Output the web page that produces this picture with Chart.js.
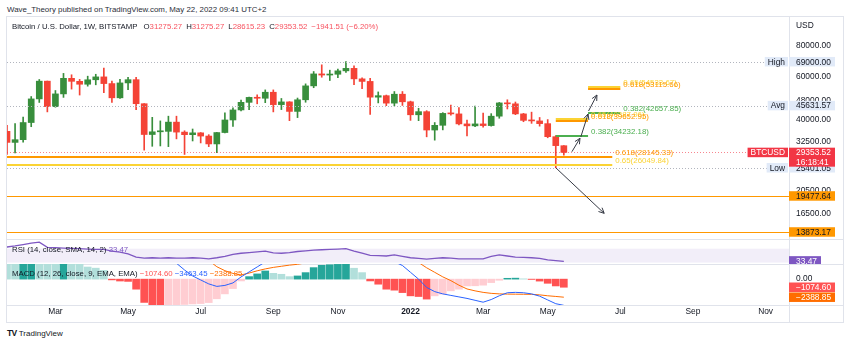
<!DOCTYPE html>
<html>
<head>
<meta charset="utf-8">
<title>BTCUSD 1W</title>
<script src="https://cdn.jsdelivr.net/npm/chart.js"></script>
<style>
  html, body { margin: 0; padding: 0; background: #fff; }
  body { position: relative; width: 850px; height: 344px; overflow: hidden;
         font-family: 'Liberation Sans', Arial, sans-serif; color: #131722; }
  .t { position: absolute; white-space: nowrap; line-height: 10px; z-index: 3; }
  .ln { position: absolute; background: #e0e3eb; z-index: 0; }
  canvas { position: absolute; left: 0; z-index: 1; }
  .dn { color: #f7525f; }
  .gap { margin-left: 4px; }
</style>
</head>
<body>
<div class="t" style="left:7px; top:5px; font-size:7.9px; color:#2a2e39">Wave_Theory published on TradingView.com, May 22, 2022 09:41 UTC+2</div>

<!-- frame and pane separators -->
<div class="ln" style="left:6px; top:16px; width:838px; height:1px"></div>
<div class="ln" style="left:6px; top:322px; width:838px; height:1px"></div>
<div class="ln" style="left:6px; top:16px; width:1px; height:307px"></div>
<div class="ln" style="left:843px; top:16px; width:1px; height:307px"></div>
<div class="ln" style="left:789px; top:16px; width:1px; height:307px"></div>
<div class="ln" style="left:6px; top:239px; width:838px; height:1px"></div>
<div class="ln" style="left:6px; top:264px; width:838px; height:1px"></div>
<div class="ln" style="left:6px; top:305px; width:838px; height:1px"></div>

<canvas id="priceChart" width="850" height="222" style="top:17px"></canvas>
<canvas id="rsiChart" width="850" height="25" style="top:239px"></canvas>
<canvas id="macdChart" width="850" height="58" style="top:264px"></canvas>

<div class="t" id="legend" style="left:12px; top:22px; font-size:7.8px"></div>
<div class="t" style="left:796px; top:20px; font-size:8.4px">USD</div>
<div class="t" id="rsiLegend" style="left:12px; top:245px; font-size:7.8px"></div>
<div class="t" id="macdLegend" style="left:12px; top:269px; font-size:7.8px"></div>
<div class="t" style="left:7px; top:328px; font-size:8px"><b style="letter-spacing:-0.6px; font-size:8.5px">TV</b> TradingView</div>

<script>
// weekly bars, BTCUSD on Bitstamp; index 0 = week of 11 Jan 2021, last = week of 16 May 2022
const OPEN = [38150, 35800, 32260, 33100, 38900, 48600, 57450, 45200, 50950, 59000,
  57350, 55800, 58200, 59800, 56150, 49100, 56500, 58250, 46450, 34750,
  35650, 35800, 39050, 35550, 34700, 35300, 34250, 31800, 35400, 39850,
  43800, 47050, 49300, 48900, 51750, 46050, 47250, 43200, 48200, 54950,
  61500, 60850, 61300, 63300, 64800, 58700, 57300, 49400, 50100, 46700,
  50800, 47300, 41850, 43100, 36250, 37900, 42400, 42200, 38400, 37700,
  38400, 37800, 41300, 46800, 46400, 42200, 39700, 39500, 38500, 34050,
  31275.27];
const HIGH = [40100, 37850, 38550, 40950, 49700, 58350, 57500, 52600, 61800, 61000,
  58400, 60200, 61300, 64900, 57500, 58450, 59500, 59600, 46500, 40850,
  39500, 41300, 41300, 36000, 36600, 35400, 34700, 35450, 42600, 44700,
  48100, 49400, 50500, 52900, 52900, 48800, 47350, 49000, 56000, 62900,
  67000, 63700, 64300, 69000, 66300, 59300, 59000, 51900, 50400, 52100,
  52100, 47600, 44500, 43500, 38900, 42700, 45850, 44800, 39800, 45400,
  42500, 42300, 47000, 48200, 47200, 42400, 42900, 40800, 40000, 34400,
  31275.27];
const LOW = [30420, 28800, 29240, 32300, 37400, 47000, 43000, 44950, 49300, 53300,
  50400, 54800, 55500, 51500, 47000, 48800, 53000, 43900, 30000, 31100,
  31200, 31000, 33350, 28800, 32700, 32100, 31000, 29300, 35300, 37500,
  43400, 43950, 46400, 46900, 43000, 43950, 39600, 40750, 47100, 54000,
  59600, 57800, 59400, 62300, 55600, 53500, 42000, 46800, 45600, 45500,
  45700, 39700, 39600, 34000, 32950, 36300, 41700, 38000, 34300, 37400,
  37200, 37600, 40500, 44200, 41900, 39200, 38600, 37600, 33700, 25401.05,
  28615.23];
const CLOSE = [35800, 32260, 33100, 38900, 48600, 57450, 45200, 50950, 59000, 57350,
  55800, 58200, 59800, 56150, 49100, 56500, 58250, 46450, 34750, 35650,
  35800, 39050, 35550, 34700, 35300, 34250, 31800, 35400, 39850, 43800,
  47050, 49300, 48900, 51750, 46050, 47250, 43200, 48200, 54950, 61500,
  60850, 61300, 63300, 64800, 58700, 57300, 49400, 50100, 46700, 50800,
  47300, 41850, 43100, 36250, 37900, 42400, 42200, 38400, 37700, 38400,
  37800, 41300, 46800, 46400, 42200, 39700, 39500, 38500, 34050, 31295.03,
  29353.52];

const RSI = [72, 75, 78, 82, 86, 89, 74, 73, 72, 71,
  70, 69, 68, 68, 63, 60, 55, 46, 43, 44,
  43, 44, 43, 43, 44, 43, 41, 44, 48, 54,
  57, 59, 61, 63, 58, 57, 59, 62, 64, 66,
  67, 68, 69, 70, 63, 57, 51, 50, 49, 52,
  48, 44, 42, 40, 42, 44, 43, 41, 41, 41,
  41, 48, 52, 49, 46, 45, 44, 42, 38, 36,
  33.47];

const MACD_LINE = [4800, 5200, 5600, 6200, 7000, 8200, 8600, 8900, 9300, 9400,
  9300, 9200, 9000, 8600, 7800, 7400, 7100, 6000, 4300, 3400,
  2900, 2600, 2100, 1210, 420, -110, -630, -960, -830, -500,
  290, 950, 1610, 2270, 2500, 2700, 2800, 3100, 3600, 4300,
  4700, 5000, 5300, 5500, 5000, 4400, 3300, 2900, 2500, 2300,
  1800, 900, 0, -1100, -1650, -1950, -2150, -2350, -2550, -2800,
  -3050, -2700, -2200, -1800, -1750, -1800, -1950, -2250, -2750, -3250,
  -3463.45];
const MACD_SIGNAL = [2300, 2800, 3300, 3700, 4200, 5500, 6100, 6600, 6900, 7200,
  7300, 7600, 7550, 7450, 7500, 7450, 7350, 7100, 6600, 6000,
  5400, 4900, 4400, 3900, 3700, 3120, 2470, 1640, 1120, 750,
  550, 800, 1100, 1350, 1550, 1700, 1850, 1960, 2150, 2700,
  2900, 3100, 3350, 3500, 3550, 3550, 3550, 3400, 3250, 3000,
  2700, 2400, 2200, 1500, 900, 300, -200, -800, -1300, -1550,
  -1750, -1880, -1950, -1980, -1990, -2000, -2010, -2080, -2200, -2290,
  -2388.85];
const MACD_HIST = [2600, 2400, 2300, 2500, 2800, 2700, 2500, 2300, 2400, 2200,
  2000, 1600, 1450, 1150, -100, -250, -300, -1330, -3080, -3400,
  -3500, -3450, -3400, -3350, -3280, -3230, -3100, -2600, -1950, -1250,
  -240, 330, 690, 1080, 770, 640, 330, 420, 860, 1520,
  1830, 1900, 1950, 1980, 1440, 860, -240, -670, -1330, -1460,
  -1780, -2210, -2300, -2640, -2210, -1980, -1550, -1330, -900, -880,
  -800, -460, -150, 110, 130, 40, -40, -260, -550, -900,
  -1074.6];

// time axis: week index of the first bar in each labelled month
const TICK_WEEKS = [7, 16, 25, 34, 42, 51, 60, 68, 77, 86, 95];
const TICK_LABELS = ['Mar', 'May', 'Jul', 'Sep', 'Nov', '2022', 'Mar', 'May', 'Jul', 'Sep', 'Nov'];
const PRICE_TICKS = [80000, 60000, 48000, 40000, 32500, 20500, 16500];

const STAT_NAMES = ['High', 'Avg', 'Low'];
const STAT_VALUES = [69000, 45631.57, 25401.05];
const SUPPORT_LEVELS = [19477.64, 13873.17];
const COUNTDOWN = '16:18:41';

// fib levels drawn on the chart
const FIB_RATIO = [0.618, 0.65, 0.382, 0.65, 0.618, 0.382, 0.65, 0.618];
const FIB_PRICE = [28145.33, 26049.84, 34232.18, 40387.96, 39652.95, 42657.85, 54533.67, 53115.66];
const FIB_FROM = [0, 0, 69, 69, 69, 73, 73, 73];
const FIB_TO = [76, 76, 73, 73, 73, 77, 77, 77];

// arrows: (week, price) -> (week, price)
const ARROW_W0 = [69, 71, 72.1, 73.06];
const ARROW_P0 = [25401.05, 29550, 33950, 43360];
const ARROW_W1 = [75, 72, 73, 74.1];
const ARROW_P1 = [16540, 33540, 42160, 50420];

const X_MIN = 1, X_MAX = 97.9;
const PRICE_MIN = 12986, PRICE_MAX = 105130;

const UP = '#388e3c', DOWN = '#f44336';
const FIB_COLORS = { 0.382: '#4caf50', 0.618: '#ff9800', 0.65: '#fbd334' };
const FONT = "'Liberation Sans', Arial, sans-serif";
const AXIS_FONT = '8.4px ' + FONT;

Chart.defaults.font.family = FONT;
Chart.defaults.font.size = 8.4;
Chart.defaults.color = '#131722';

const last = CLOSE.length - 1;
const fmt = v => (v < 0 ? '\u2212' : '') + Math.abs(v).toFixed(2);

// legends
const chg = CLOSE[last] - CLOSE[last - 1];
const pct = chg / CLOSE[last - 1] * 100;
document.getElementById('legend').innerHTML =
  'Bitcoin / U.S. Dollar, 1W, BITSTAMP' +
  '<span class="gap" style="margin-left:6px">O</span><span class="dn">' + OPEN[last].toFixed(2) + '</span>' +
  '<span class="gap">H</span><span class="dn">' + HIGH[last].toFixed(2) + '</span>' +
  '<span class="gap">L</span><span class="dn">' + LOW[last].toFixed(2) + '</span>' +
  '<span class="gap">C</span><span class="dn">' + CLOSE[last].toFixed(2) + '</span>' +
  '<span class="gap dn">' + fmt(chg) + ' (' + fmt(pct) + '%)</span>';
document.getElementById('rsiLegend').innerHTML =
  'RSI (14, close, SMA, 14, 2) <span style="color:#7e57c2">' + RSI[last].toFixed(2) + '</span>';
document.getElementById('macdLegend').innerHTML =
  'MACD (12, 26, close, 9, EMA, EMA) <span style="color:#ff5252">' + fmt(MACD_HIST[last]) + '</span>' +
  ' <span style="color:#2962ff">' + fmt(MACD_LINE[last]) + '</span>' +
  ' <span style="color:#ff6d00">' + fmt(MACD_SIGNAL[last]) + '</span>';

function fixAxis(scale) {
  scale.width = 54;
  scale.paddingTop = 0;
  scale.paddingBottom = 0;
}

const hiddenX = { type: 'linear', min: X_MIN, max: X_MAX, offset: false, display: false };

function baseOptions(xScale, yScale) {
  return {
    responsive: false, animation: false, devicePixelRatio: 1, events: [],
    layout: { padding: { left: 7, right: 7, top: 0, bottom: 0 } },
    plugins: { legend: { display: false }, tooltip: { enabled: false } },
    scales: { x: xScale, y: yScale }
  };
}

function valueBox(ctx, x, yc, h, bg, fg, lines, w) {
  ctx.fillStyle = bg;
  ctx.fillRect(x, yc - 4.75, w || 46, h);
  ctx.fillStyle = fg;
  lines.forEach((s, k) => ctx.fillText(s, x + 7, yc + 0.5 + k * 9.3));
}

function nameBox(ctx, xRight, yc, bg, fg, text) {
  const w = ctx.measureText(text).width + 7;
  ctx.fillStyle = bg;
  ctx.fillRect(xRight - w, yc - 4.75, w - 1, 9.5);
  ctx.fillStyle = fg;
  ctx.fillText(text, xRight - w + 3, yc + 0.5);
}

function arrow(ctx, x0, y0, x1, y1) {
  const ang = Math.atan2(y1 - y0, x1 - x0), len = 6, spread = 0.45;
  ctx.beginPath();
  ctx.moveTo(x0, y0);
  ctx.lineTo(x1, y1);
  ctx.moveTo(x1 - len * Math.cos(ang - spread), y1 - len * Math.sin(ang - spread));
  ctx.lineTo(x1, y1);
  ctx.lineTo(x1 - len * Math.cos(ang + spread), y1 - len * Math.sin(ang + spread));
  ctx.stroke();
}

const priceOverlay = {
  id: 'priceOverlay',
  afterDatasetsDraw(chart) {
    const { ctx, chartArea: a, scales: { x, y } } = chart;
    ctx.save();
    ctx.beginPath();
    ctx.rect(a.left, a.top, a.right - a.left, a.bottom - a.top);
    ctx.clip();

    // high / avg / low and last price
    ctx.lineWidth = 1;
    ctx.setLineDash([1, 2]);
    ctx.strokeStyle = '#b2b5be';
    STAT_VALUES.forEach(v => {
      const yy = Math.round(y.getPixelForValue(v)) + 0.5;
      ctx.beginPath(); ctx.moveTo(a.left, yy); ctx.lineTo(a.right, yy); ctx.stroke();
    });
    ctx.strokeStyle = 'rgba(242,54,69,0.6)';
    const yLast = Math.round(y.getPixelForValue(CLOSE[last])) + 0.5;
    ctx.beginPath(); ctx.moveTo(a.left, yLast); ctx.lineTo(a.right, yLast); ctx.stroke();
    ctx.setLineDash([]);

    // horizontal supports
    ctx.strokeStyle = '#ff9800';
    SUPPORT_LEVELS.forEach(v => {
      const yy = Math.round(y.getPixelForValue(v)) + 0.5;
      ctx.beginPath(); ctx.moveTo(a.left, yy); ctx.lineTo(a.right, yy); ctx.stroke();
    });

    // fib segments
    ctx.lineWidth = 2;
    FIB_PRICE.forEach((p, i) => {
      const yy = Math.round(y.getPixelForValue(p));
      ctx.strokeStyle = FIB_COLORS[FIB_RATIO[i]];
      ctx.beginPath();
      ctx.moveTo(Math.max(x.getPixelForValue(FIB_FROM[i]), a.left), yy);
      ctx.lineTo(x.getPixelForValue(FIB_TO[i]), yy);
      ctx.stroke();
    });

    // arrows
    ctx.lineWidth = 1;
    ctx.strokeStyle = '#363a45';
    ARROW_W0.forEach((w, i) => {
      arrow(ctx, x.getPixelForValue(w), y.getPixelForValue(ARROW_P0[i]),
        x.getPixelForValue(ARROW_W1[i]), y.getPixelForValue(ARROW_P1[i]));
    });

    // fib labels
    ctx.font = '7.9px ' + FONT;
    ctx.textBaseline = 'middle';
    FIB_PRICE.forEach((p, i) => {
      const yy = Math.round(y.getPixelForValue(p));
      ctx.fillStyle = FIB_COLORS[FIB_RATIO[i]];
      ctx.fillText(FIB_RATIO[i] + '(' + p.toFixed(2) + ')', x.getPixelForValue(FIB_TO[i]) + 3, yy - 4.5);
    });
    ctx.restore();
  },
  afterDraw(chart) {
    const { ctx, chartArea: a, scales: { y } } = chart;
    ctx.save();
    ctx.font = AXIS_FONT;
    ctx.textBaseline = 'middle';
    const statBg = '#e1eaf8';
    STAT_VALUES.forEach((v, i) => {
      const yc = y.getPixelForValue(v);
      nameBox(ctx, a.right, yc, statBg, '#131722', STAT_NAMES[i]);
      valueBox(ctx, a.right, yc, 9.5, statBg, '#131722', [v.toFixed(2)]);
    });
    SUPPORT_LEVELS.forEach(v => {
      valueBox(ctx, a.right, y.getPixelForValue(v), 9.5, '#ff9800', '#131722', [v.toFixed(2)]);
    });
    const yc = y.getPixelForValue(CLOSE[last]);
    nameBox(ctx, a.right, yc, '#f23645', '#fff', 'BTCUSD');
    valueBox(ctx, a.right, yc, 19, '#f23645', '#fff', [CLOSE[last].toFixed(2), COUNTDOWN]);
    ctx.restore();
  }
};

new Chart(document.getElementById('priceChart'), {
  type: 'bar',
  data: {
    datasets: [
      {
        data: OPEN.map((o, i) => ({ x: i, y: [o, CLOSE[i]] })),
        backgroundColor: c => CLOSE[c.dataIndex] >= OPEN[c.dataIndex] ? UP : DOWN,
        barThickness: 6, minBarLength: 1, grouped: false, clip: 0, order: 0
      },
      {
        data: LOW.map((l, i) => ({ x: i, y: [l, HIGH[i]] })),
        backgroundColor: c => CLOSE[c.dataIndex] >= OPEN[c.dataIndex] ? UP : DOWN,
        barThickness: 1, grouped: false, clip: 0, order: 1
      }
    ]
  },
  options: baseOptions(hiddenX, {
    type: 'logarithmic', position: 'right', min: PRICE_MIN, max: PRICE_MAX,
    afterBuildTicks: s => { s.ticks = PRICE_TICKS.map(v => ({ value: v })); },
    afterFit: fixAxis,
    ticks: { padding: 7, color: '#131722', font: { size: 8.4 }, callback: v => Number(v).toFixed(2) },
    grid: { display: false, drawTicks: false },
    border: { display: false }
  }),
  plugins: [priceOverlay]
});

const rsiOverlay = {
  id: 'rsiOverlay',
  beforeDatasetsDraw(chart) {
    const { ctx, chartArea: a, scales: { y } } = chart;
    const top = y.getPixelForValue(70), bottom = y.getPixelForValue(30);
    ctx.save();
    ctx.fillStyle = 'rgba(126,87,194,0.1)';
    ctx.fillRect(a.left, top, a.right - a.left, bottom - top);
    ctx.restore();
  },
  afterDraw(chart) {
    const { ctx, chartArea: a, scales: { y } } = chart;
    ctx.save();
    ctx.font = AXIS_FONT;
    ctx.textBaseline = 'middle';
    valueBox(ctx, a.right, y.getPixelForValue(RSI[last]) - 0.5, 8.5, '#7e57c2', '#fff', [RSI[last].toFixed(2)], 32);
    ctx.restore();
  }
};

new Chart(document.getElementById('rsiChart'), {
  type: 'line',
  data: {
    datasets: [{
      data: RSI.map((v, i) => ({ x: i, y: v })),
      borderColor: '#7e57c2', borderWidth: 1.3, pointRadius: 0, tension: 0, clip: 0
    }]
  },
  options: baseOptions(hiddenX, {
    type: 'linear', position: 'right', min: 26, max: 98,
    afterFit: fixAxis,
    ticks: { display: false },
    grid: { display: false, drawTicks: false },
    border: { display: false }
  }),
  plugins: [rsiOverlay]
});

function histColor(i) {
  const v = MACD_HIST[i], prev = i > 0 ? MACD_HIST[i - 1] : v;
  if (v >= 0) return v >= prev ? '#26a69a' : '#b2dfdb';
  return v < prev ? '#ff5252' : '#ffcdd2';
}

const macdOverlay = {
  id: 'macdOverlay',
  afterDraw(chart) {
    const { ctx, chartArea: a, scales: { y } } = chart;
    ctx.save();
    ctx.font = AXIS_FONT;
    ctx.textBaseline = 'middle';
    valueBox(ctx, a.right, y.getPixelForValue(MACD_HIST[last]), 9.5, '#ff5252', '#fff', [fmt(MACD_HIST[last])]);
    valueBox(ctx, a.right, y.getPixelForValue(MACD_SIGNAL[last]), 9.5, '#ff6d00', '#fff', [fmt(MACD_SIGNAL[last])]);
    ctx.restore();
  }
};

new Chart(document.getElementById('macdChart'), {
  type: 'bar',
  data: {
    datasets: [
      {
        type: 'line', data: MACD_LINE.map((v, i) => ({ x: i, y: v })),
        borderColor: '#2962ff', borderWidth: 1, pointRadius: 0, tension: 0, clip: 0, order: 0
      },
      {
        type: 'line', data: MACD_SIGNAL.map((v, i) => ({ x: i, y: v })),
        borderColor: '#ff6d00', borderWidth: 1, pointRadius: 0, tension: 0, clip: 0, order: 1
      },
      {
        data: MACD_HIST.map((v, i) => ({ x: i, y: v })),
        backgroundColor: c => histColor(c.dataIndex),
        barThickness: 7, grouped: false, clip: 0, order: 2
      }
    ]
  },
  options: baseOptions({
    type: 'linear', position: 'bottom', min: X_MIN, max: X_MAX, offset: false,
    afterBuildTicks: s => { s.ticks = TICK_WEEKS.map(v => ({ value: v })); },
    afterFit: s => { s.height = 17; s.paddingLeft = 0; s.paddingRight = 0; },
    ticks: {
      autoSkip: false, maxRotation: 0, padding: 2, color: '#131722',
      font: c => ({ size: 8.4, weight: TICK_LABELS[c.index] === '2022' ? 'bold' : 'normal' }),
      callback: (v, i) => TICK_LABELS[i]
    },
    grid: { display: false, drawTicks: false },
    border: { display: false }
  }, {
    type: 'linear', position: 'right', min: -3420, max: 2000,
    afterBuildTicks: s => { s.ticks = [{ value: 0 }]; },
    afterFit: fixAxis,
    ticks: { padding: 7, color: '#131722', font: { size: 8.4 }, callback: v => Number(v).toFixed(2) },
    grid: { display: false, drawTicks: false },
    border: { display: false }
  }),
  plugins: [macdOverlay]
});
</script>
</body>
</html>
